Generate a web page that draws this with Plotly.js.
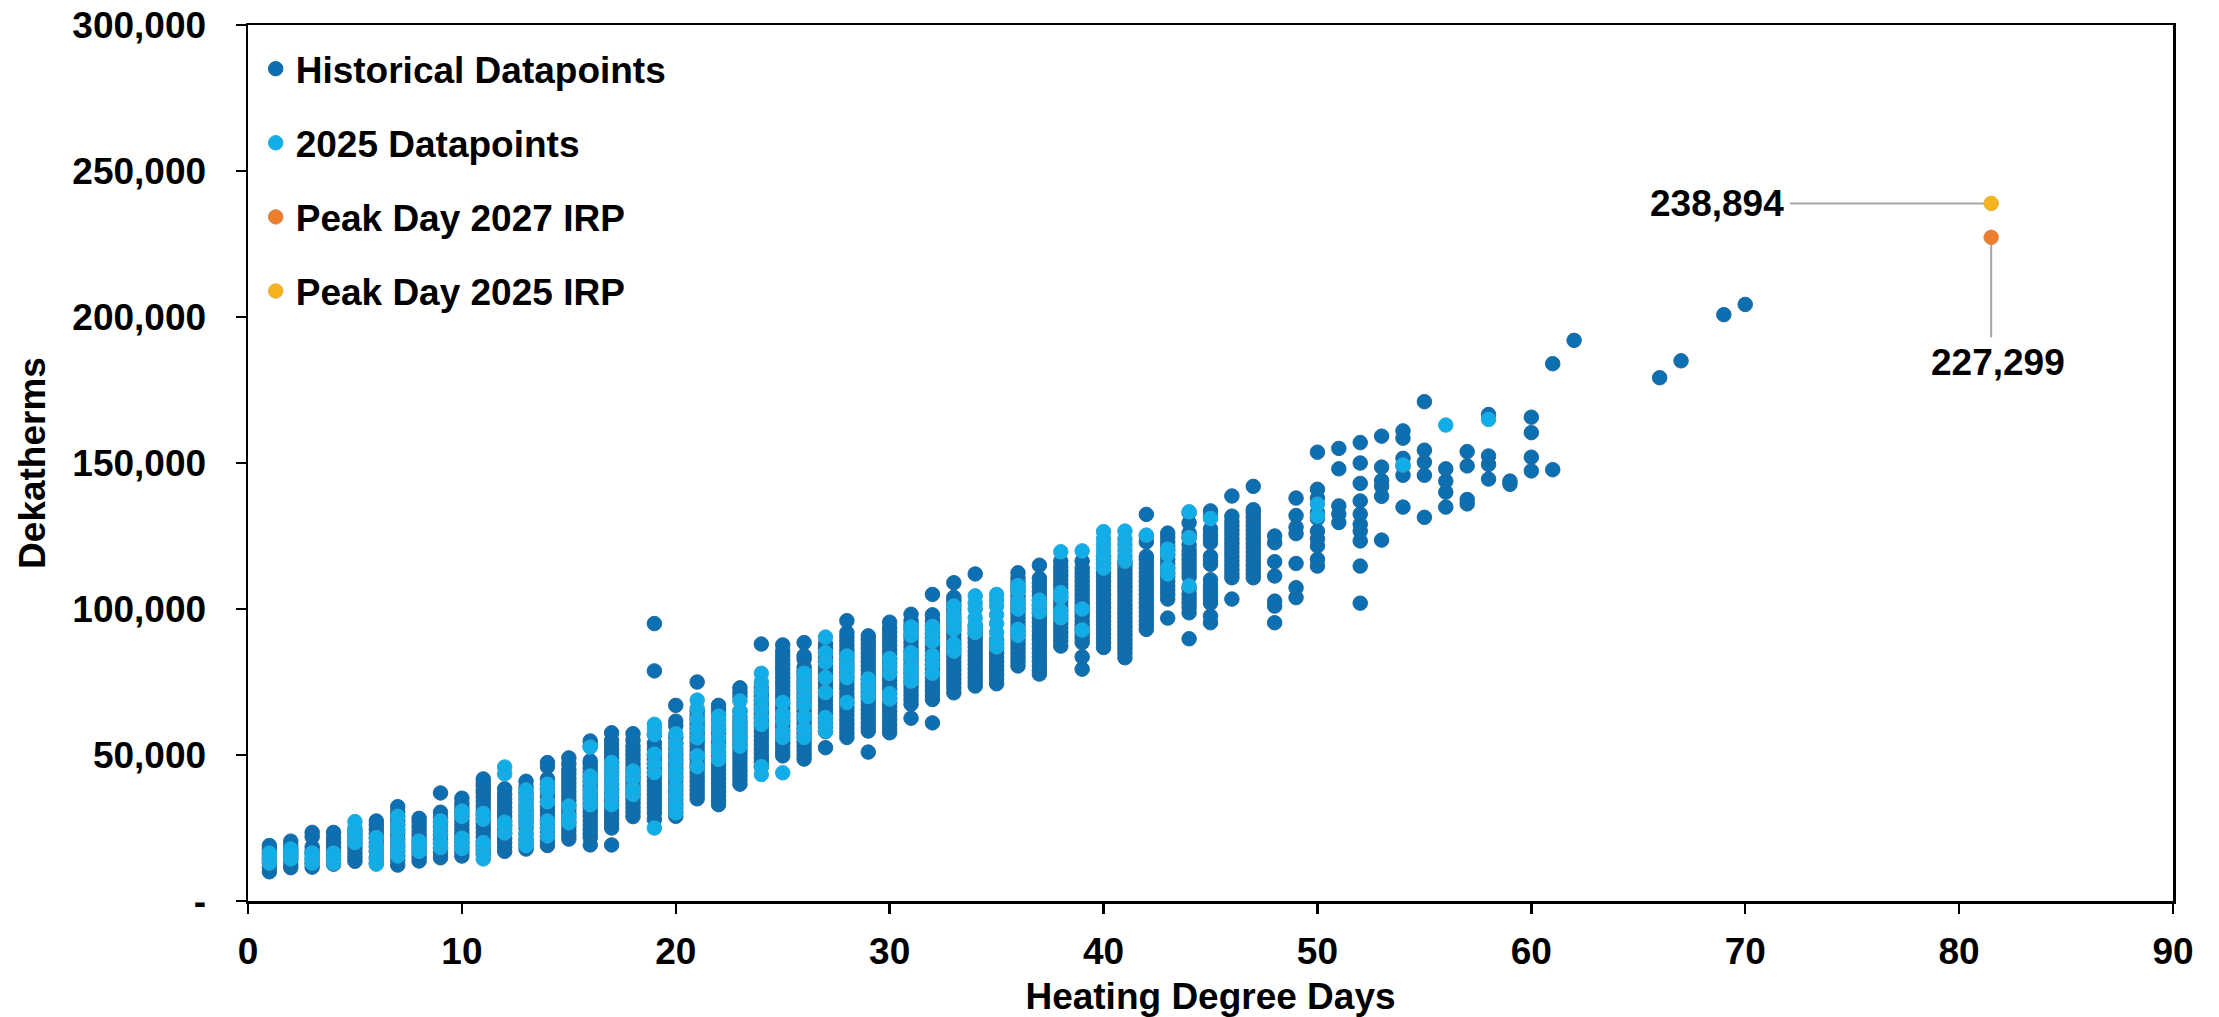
<!DOCTYPE html>
<html>
<head>
<meta charset="utf-8">
<script src="https://cdn.plot.ly/plotly-3.0.1.min.js"></script>
<style>html,body{margin:0;padding:0;background:#fff}#chart{width:2219px;height:1017px}</style>
</head>
<body>
<div id="chart"></div>
<script>
// Values in thousands of dekatherms, one array per Heating Degree Day value.
const h1=[10,11.5,13,14,15,16,17,18,19], h2=[11.4,12.5,14,15,16,17,18,19,20.5], h3=[11.6,13,14.5,16,17,18.5,23.5,22], h4=[12.6,14,15.5,17,18.5,20,21.5,23.5];
const h5=[13.6,15,16.5,18,19.5,21,22.5,24], h6=[13,15,17,18.5,20,21.5,23,24.5,26,27.4], h7=[12.3,14,15.5,17,18.5,20,21.5,23,24.5,26,27.5,29,30.5,32.3], h8=[13.7,15,16.5,18,19.5,21,22.5,24,25.5,27,28.3];
const h9=[14.8,16.5,18,19.5,21,22.5,24,25.5,27,28.5,30.4,37], h10=[15.4,17,18.5,20,21.5,23,24.5,26,27.5,29,30.5,32,33.5,35.2], h11=[16,17.5,19,20.5,22,23.5,25,26.5,28,29.5,31,32.5,34,35.5,37,38,39.4,40.5,41.8];
const h12=[17,18.5,20,21.5,23,24.5,26,27.5,29,30.5,32,33.5,35,36.5,38.4], h13=[17.8,19.5,21,23,25,27,29,31,33,35,37,39,41], h14=[19,20.5,22,23.5,25,26.5,28,29.5,31,32.5,34,35.5,37,38.5,40,41.8,46,47.4];
const h15=[21.2,22.5,24,25.5,27,28.5,30,31.5,33,34.5,36,37.5,39,40.5,42,43.5,45,47,49], h16=[19.2,21.7,23,24.5,26,27.5,29,30.5,32,33.5,35,36.5,38,39.5,41,42.5,44,45.5,47,48,54.8,53];
const h17=[19.2,25,26.5,28,29.5,31,32.5,34,35.5,37,38.5,40,41.5,43,44.5,46,47.5,49,50.5,52,53.5,55,57.6], h18=[28.9,30.5,32,33.5,35,36.5,38,39.5,41,42.5,44,45.5,47,48.5,50,51.5,53,55,57.3];
const h19=[28,30.2,32,33.5,35,36.5,38,39.5,41,42.5,44,45.5,47,48.5,50,52,54,57,78.8,95], h20=[29,30.5,32,33.5,35,36.5,38,39.5,41,42.5,44,45.5,47,48.5,50,52,54,56,61.6,60,67];
const h21=[35,36.5,38,39.5,41,42.5,44,45.5,47,48.5,50,51.5,53,54.5,56,57.5,59,60.5,62,63.5,65,75], h22=[33,34.5,36,37.5,39,40.5,42,43.5,45,46.5,48,49.5,51,52.5,54,55.5,57,58.5,60,62,64,65.5,67];
const h23=[40,41.5,43,44.5,46,47.5,49,50.5,52,53.5,55,56.5,58,59.5,61,63,65,70,71.5,73], h24=[46,47.5,49,50.5,52,53.5,55,56.5,58,59.5,61,62.5,64,65.5,67,68.5,70,71.5,73,88];
const h25=[49.7,51,52.5,54,55.5,57,58.5,60,61.5,63,64.5,66,67.5,69,70.5,72,73.5,75,76.5,78,79.5,81,82.5,84,85.5,87.7], h26=[48.6,50,51.5,53,54.5,56,57.5,59,60.5,62,63.5,65,66.5,68,69.5,71,72.5,74,75.5,77,78.5,80,82.8,84,88.5];
const h27=[52.5,58,59.5,61,62.5,64,65.5,67,68.5,70,71.5,73,74.5,76,77.5,79,80.5,82,83.5,85,86.5,88], h28=[56,57.5,59,60.5,62,63.5,65,66.5,68,69.5,71,72.5,74,75.5,77,78.5,80,81.5,83,84.5,86,87.5,89,90.5,91.9,96];
const h29=[51,58.2,59.5,61,62.5,64,65.5,67,68.5,70,71.5,73,74.5,76,77.5,79,80.5,82,83.5,85,86.5,88,89.5,90.8], h30=[57.6,59,60.5,62,63.5,65,66.5,68,69.5,71,72.5,74,75.5,77,78.5,80,81.5,83,84.5,86,87.5,89,90.5,92,93.5,95.5];
const h31=[62.6,67.4,69,70.5,72,73.5,75,76.5,78,79.5,81,82.5,84,85.5,87,88.5,90,91.5,93,94.5,96,98.2], h32=[61,69,70.5,72,73.5,75,76.5,78,79.5,81,82.5,84,85.5,87,88.5,90,91.5,93,94.5,96,98,105];
const h33=[71.3,73,74.5,76,77.5,79,80.5,82,83.5,85,86.5,88,89.5,91,92.5,94,95.5,97,98.5,100,101.5,103,104,109], h34=[73.6,75,76.5,78,79.5,81,82.5,84,85.5,87,88.5,90,91.5,93,94.5,112];
const h35=[74.4,76,77.5,79,80.5,82,83.5,85,86.5,88,89.5], h36=[80.5,82,83.5,85,86.5,88,89.5,91,92.5,94,95.5,97,98.5,100,101.5,103,104.5,106,107.5,109,110.5,112.4];
const h37=[77.7,79,80.5,82,83.5,85,86.5,88,89.5,91,92.5,94,95.5,97,98.5,100,101.5,103,104.5,106,107.5,109,110.5,115], h38=[87.3,89,90.5,92,93.5,95,96.5,98,99.5,101,102.5,104,105.5,107,108.5,110,111.5,113,114.5,116.4];
const h39=[79.4,83.6,88.5,90,91.5,93,94.5,96,97.5,99,100.5,102,103.5,105,106.5,108,109.5,111,112.5,114,116.4], h40=[86.8,88.5,90,91.5,93,94.5,96,97.5,99,100.5,102,103.5,105,106.5,108,109.5,111,112.5,114,115.5,117,118];
const h41=[83.3,85,86.5,88,89.5,91,92.5,94,95.5,97,98.5,100,101.5,103,104.5,106,107.5,109,110.5,112,113.5,115,116], h42=[93,94.5,96,97.5,99,100.5,102,103.5,105,106.5,108,109.5,111,112.5,114,115.5,117,118,123,125,132.4];
const h43=[96.9,103.4,105,106.5,108,109.5,111,112.5,114,115.5,117,118.5,120,121.5,123,124.5,126], h44=[89.8,98.7,100.5,102,103.5,105,107,111,112.5,114,115.5,117,118.5,120,122,124.5,126,129.5,133];
const h45=[95.3,97.6,102,103.5,105,106.5,108,110,115.3,116.5,118,122.7,124,125.5,127.4,131.8,133.6], h46=[103.4,110.7,112,113.5,115,116.5,118,119.5,121,122.5,124,125.5,127,128.5,130,131.8,138.7];
const h47=[110.7,112,113.5,115,116.5,118,119.5,121,122.5,124,125.5,127,128.5,130,131.5,133,134,142], h48=[95.3,101,102.7,111.3,116.2,122.7,125];
const h49=[103.9,107.3,115.6,125.8,128,132,138], h50=[114.7,117,121.6,124,126.7,131,133,138,141,153.7];
const h51=[129.6,132.5,135.3,148,155], h52=[102,114.7,123.3,126.7,129,132.5,137,143,150,157];
const h53=[123.6,138.6,142,144,148.6,159.2], h54=[134.9,145.8,149,151.6,158.5,161], h55=[131.4,145.8,150.3,154.4,171];
const h56=[134.9,140,143.8,148], h57=[136,137.5,149,153.9], h58=[144.5,149.5,152.4,166.6], h59=[142.7,143.8];
const h60=[147.3,152,160.4,165.7], h61=[147.7,184], h62=[192], h66=[179.2], h67=[185], h69=[200.8], h70=[204.3];
const historicalHdd=[1,2,3,4,5,6,7,8,9,10,11,12,13,14,15,16,17,18,19,20,21,22,23,24,25,26,27,28,29,30,31,32,33,34,35,36,37,38,39,40,41,42,43,44,45,46,47,48,49,50,51,52,53,54,55,56,57,58,59,60,61,62,66,67,69,70];
const historicalColumns=[h1,h2,h3,h4,h5,h6,h7,h8,h9,h10,h11,h12,h13,h14,h15,h16,h17,h18,h19,h20,h21,h22,h23,h24,h25,h26,h27,h28,h29,h30,h31,h32,h33,h34,h35,h36,h37,h38,h39,h40,h41,h42,h43,h44,h45,h46,h47,h48,h49,h50,h51,h52,h53,h54,h55,h56,h57,h58,h59,h60,h61,h62,h66,h67,h69,h70];

const c1=[13,14.5,16.4], c2=[14.4,16,17.8], c3=[13,14.5,16.4], c4=[13,14.5,16.4], c5=[20,22.9,25,27.2], c6=[12.6,14.5,17,19,21.7];
const c7=[15.4,17,18.8,21,24,26,29], c8=[17,19,20.5], c9=[18.3,20,22.9,25,27.4], c10=[18,19.9,21.5,29,30.8], c11=[14.4,16.4,18.8,20,28,30];
const c12=[23.3,25.7,27,43.5,45.9], c13=[19,21,23,26,28,30,32,34,36,38], c14=[22.3,25,27.4,34,37.7,40], c15=[26.8,29,32.5];
const c16=[33,35.4,38,41,42.8,52.7], c17=[33,36,38,40,42,44,45.5,47.4], c18=[36.5,38.4,42,44.5], c19=[25,44,47,50.3,57,59,60.5];
const c20=[30.2,33,36,39,42.2,45,48,51,54,57.2], c21=[46,49.7,55.9,59,62.3,66,68.8], c22=[48.5,51,53,56,59,61,63.3];
const c23=[53,56,59,62,65,68.5], c24=[43.3,46,60.5,63,66,69,72,75,78], c25=[43.9,56,58,61.6,64,68], c26=[56,59,63,67,70,73,75,78];
const c27=[58.2,60.5,62.8,71.4,76.5,81.8,85,90.4], c28=[68,76.5,79,81,83.9], c29=[70,72,74,76], c30=[69.2,71,78,80.5,83];
const c31=[75.3,78,80,83,85,91,93.8], c32=[78,81,84,89,91.8,94], c33=[85.6,88,93,95.9,98,101], c34=[92,94,97,100,102,104.5];
const c35=[87,89,92,95,98,101,103,105], c36=[91,93,100,102.5,106,108], c37=[99,101,103], c38=[97,99.3,104,105.6,119.6], c39=[92.8,100,119.9];
const c40=[114,116,118,120,122,124,126.5], c41=[116.4,118,120,122,124,126.7], c42=[125.3], c43=[112,114,118.7,120.5], c44=[107.9,124.4,133.3];
const c45=[131], c50=[131.8,135.9], c54=[149.3], c56=[163], c58=[164.9];
const datapoints2025Hdd=[1,2,3,4,5,6,7,8,9,10,11,12,13,14,15,16,17,18,19,20,21,22,23,24,25,26,27,28,29,30,31,32,33,34,35,36,37,38,39,40,41,42,43,44,45,50,54,56,58];
const datapoints2025Columns=[c1,c2,c3,c4,c5,c6,c7,c8,c9,c10,c11,c12,c13,c14,c15,c16,c17,c18,c19,c20,c21,c22,c23,c24,c25,c26,c27,c28,c29,c30,c31,c32,c33,c34,c35,c36,c37,c38,c39,c40,c41,c42,c43,c44,c45,c50,c54,c56,c58];

const peakHdd=81.5, peak2027=227299, peak2025=238894;
const xTicks=[0,10,20,30,40,50,60,70,80,90];
const yTicks=[0,50000,100000,150000,200000,250000,300000];
const yTickText=['-','50,000','100,000','150,000','200,000','250,000','300,000'];

function flatten(hdd, cols){
  const x=[], y=[];
  cols.forEach((col,i)=>col.forEach(v=>{x.push(hdd[i]); y.push(v*1000);}));
  return {x,y};
}
const hist=flatten(historicalHdd,historicalColumns), cur=flatten(datapoints2025Hdd,datapoints2025Columns);
const FONT='"Liberation Sans", Arial, sans-serif';
const labelFont={family:FONT,size:37,color:'#000',weight:700};
const mk=(color,line)=>({size:14.5,color:color,line:{width:1,color:line}});
const traces=[
 {type:'scatter',mode:'markers',name:'Historical Datapoints',legendgroup:'a',x:hist.x,y:hist.y,marker:mk('#0b6fb2','#1f6a9c')},
 {type:'scatter',mode:'markers',name:'2025 Datapoints',legendgroup:'b',x:cur.x,y:cur.y,marker:mk('#10ade8','#2aa9d8')},
 {type:'scatter',mode:'markers',name:'Peak Day 2027 IRP',legendgroup:'c',x:[peakHdd],y:[peak2027],marker:mk('#ed7d2b','#d98a50')},
 {type:'scatter',mode:'markers',name:'Peak Day 2025 IRP',legendgroup:'d',x:[peakHdd],y:[peak2025],marker:mk('#f5b31f','#e0b040')}
];
const grey={color:'#a6a6a6',width:2};
const layout={
 width:2219,height:1017,paper_bgcolor:'#fff',plot_bgcolor:'#fff',showlegend:true,
 margin:{l:247.5,r:45.5,t:24.5,b:116,autoexpand:false},
 font:{family:FONT,color:'#000'},
 xaxis:{range:[0,90],tickvals:xTicks,ticks:'outside',ticklen:10,tickwidth:2.5,tickcolor:'#000',showline:true,linewidth:2.5,linecolor:'#000',mirror:true,showgrid:false,zeroline:false,tickfont:labelFont,ticklabelstandoff:6,title:{text:'Heating Degree Days',font:labelFont,standoff:17}},
 yaxis:{range:[0,300000],tickvals:yTicks,ticktext:yTickText,ticks:'outside',ticklen:10,tickwidth:2.5,tickcolor:'#000',showline:true,linewidth:2.5,linecolor:'#000',mirror:true,showgrid:false,zeroline:false,tickfont:labelFont,ticklabelstandoff:22,title:{text:'Dekatherms',font:labelFont,standoff:16}},
 legend:{x:0.004,y:0.985,xanchor:'left',yanchor:'top',xref:'paper',yref:'paper',bgcolor:'rgba(0,0,0,0)',font:labelFont,itemsizing:'trace',tracegroupgap:23,traceorder:'grouped',itemwidth:30},
 shapes:[
  {type:'line',layer:'below',xref:'x',yref:'y',x0:72.1,x1:peakHdd,y0:peak2025,y1:peak2025,line:grey},
  {type:'line',layer:'below',xref:'x',yref:'y',x0:peakHdd,x1:peakHdd,y0:peak2027,y1:193000,line:grey}
 ],
 annotations:[
  {xref:'x',yref:'y',x:peakHdd,y:peak2025,text:'238,894',showarrow:false,xanchor:'right',yanchor:'middle',xshift:-205,font:labelFont},
  {xref:'x',yref:'y',x:peakHdd,y:peak2027,text:'227,299',showarrow:false,xanchor:'center',yanchor:'middle',xshift:7,yshift:-125,font:labelFont}
 ]
};
Plotly.newPlot('chart',traces,layout,{displayModeBar:false,staticPlot:true});
</script>
</body>
</html>
